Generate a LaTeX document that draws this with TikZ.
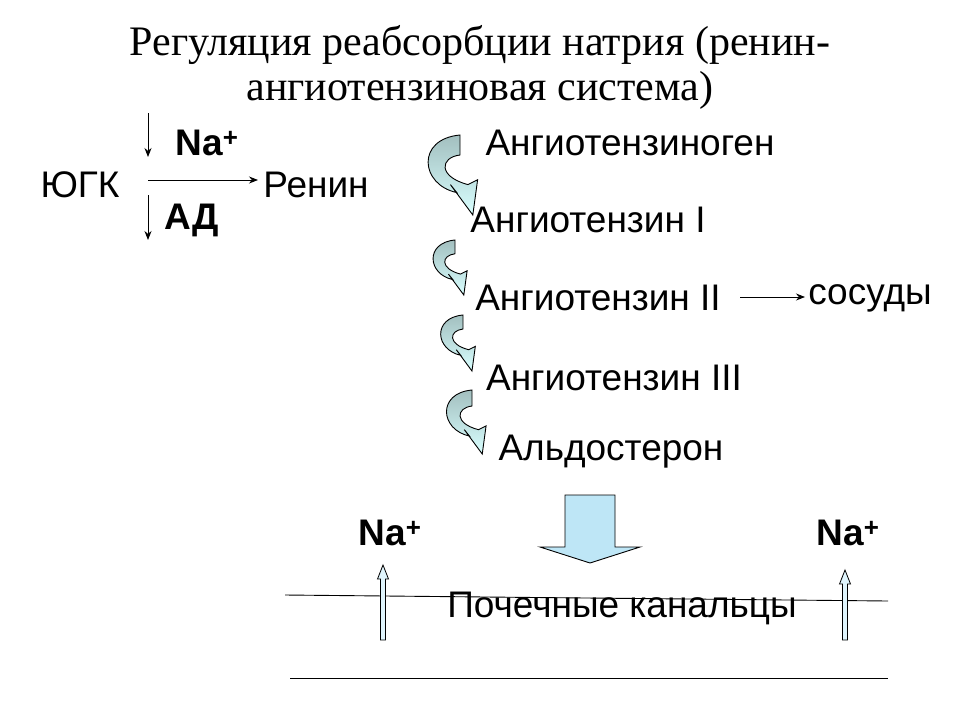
\documentclass[tikz,border=0pt]{standalone}
\usepackage{fontspec}
\setmainfont{Liberation Serif}
\newfontfamily\arial{Liberation Sans}
\usetikzlibrary{arrows.meta}
\tikzset{
 lbl/.style={font=\arial\fontsize{37}{42}\selectfont, inner sep=0},
 blbl/.style={font=\arial\bfseries\fontsize{37}{42}\selectfont, inner sep=0},
 ttl/.style={font=\fontsize{42}{48}\selectfont, inner sep=0},
 thin/.style={-{Stealth[length=9pt,width=7pt]}, line width=0.9pt},
 band/.style={draw=black, line width=0.9pt, top color=gray!55!teal!50, bottom color=cyan!15!white},
 pic/.style={draw=black, line width=0.8pt, fill=cyan!12!white}
}
\newcommand{\curv}[3]{% x y h
 \begin{scope}[shift={(#1,#2)}, x=#3pt, y=-#3pt]
 \path[band] (0,0) .. controls (-0.55,0.05) and (-0.5,0.62) .. (-0.04,0.72)
  -- (-0.12,0.62) -- (0.16,1.0) -- (0.22,0.56) -- (0.1,0.62)
  .. controls (-0.28,0.52) and (-0.25,0.28) .. (0,0.25) -- cycle;
 \end{scope}}
\newcommand{\uparr}[3]{% x ybottom ytop
 \path[pic] (#1-2.5,#2) -- (#1-2.5,#3+14) -- (#1-5.5,#3+14) -- (#1,#3) -- (#1+5.5,#3+14) -- (#1+2.5,#3+14) -- (#1+2.5,#2) -- cycle;}
\begin{document}
\begin{tikzpicture}[x=1pt,y=-1pt]
\useasboundingbox (0,0) rectangle (960,720);
\node[ttl] (t1) at (480,45) {Регуляция реабсорбции натрия (ренин-};
\node[ttl] (t2) at (480,90) {ангиотензиновая система)};
\node[blbl] (na) at (207,143) {Na\textsuperscript{+}};
\node[lbl] (ugk) at (80,185) {ЮГК};
\node[lbl] (ren) at (316,185) {Ренин};
\node[blbl] (ad) at (192,220) {АД};
\coordinate (a1) at (148,113); \coordinate (a2) at (148,157);
\coordinate (b1) at (148,195); \coordinate (b2) at (148,240);
\coordinate (c1) at (148,180); \coordinate (c2) at (258,180);
\draw[thin] (a1) -- (a2);
\draw[thin] (b1) -- (b2);
\draw[thin] (c1) -- (c2);
\node[lbl] (ag) at (630,143) {Ангиотензиноген};
\node[lbl] (a1n) at (588,220) {Ангиотензин I};
\node[lbl] (a2n) at (598,298) {Ангиотензин II};
\node[lbl] (sos) at (870,298) {сосуды};
\coordinate (s1) at (740,297); \coordinate (s2) at (805,297);
\draw[thin] (s1) -- (s2);
\node[lbl] (a3n) at (614,378) {Ангиотензин III};
\node[lbl] (ald) at (611,452) {Альдостерон};
\curv{460}{135}{80}
\curv{455}{240}{55}
\curv{463}{315}{56}
\curv{472}{390}{64}
\path[draw=black, line width=0.9pt, fill=cyan!25!white!95!gray] (565,495) -- (615,495) -- (615,547) -- (640,547) -- (590,563) -- (540,547) -- (565,547) -- cycle;
\node[blbl] (na1) at (390,533) {Na\textsuperscript{+}};
\node[blbl] (na2) at (848,533) {Na\textsuperscript{+}};
\coordinate (l1) at (285,595); \coordinate (l2) at (888,601);
\coordinate (m1) at (290,678); \coordinate (m2) at (888,678);
\draw[line width=0.9pt] (l1) -- (l2);
\draw[line width=0.9pt] (m1) -- (m2);
\node[lbl] (pk) at (622,608) {Почечные канальцы};
\uparr{383}{640}{565}
\uparr{845}{640}{570}
\end{tikzpicture}
\end{document}
